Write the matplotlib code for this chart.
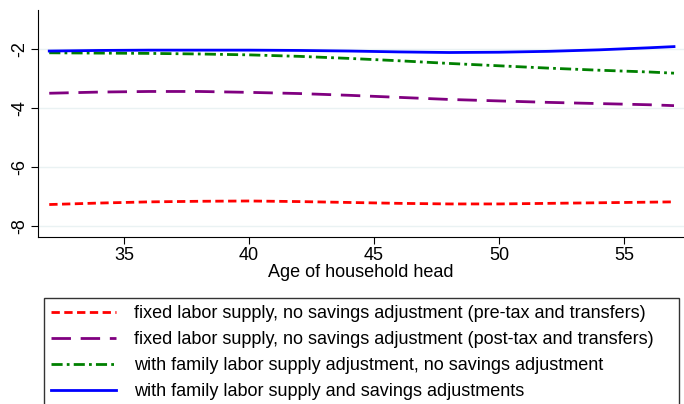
import matplotlib
matplotlib.use("Agg")
import matplotlib.pyplot as plt

plt.rcParams['font.family'] = ['Liberation Sans', 'DejaVu Sans']

ages = [32, 34, 36, 38, 40, 42, 44, 46, 48, 50, 52, 54, 56, 57]
pre_tax = [-7.27, -7.22, -7.18, -7.16, -7.15, -7.17, -7.20, -7.23, -7.25, -7.25, -7.23, -7.21, -7.19, -7.18]
post_tax = [-3.50, -3.46, -3.44, -3.44, -3.47, -3.51, -3.57, -3.64, -3.71, -3.76, -3.81, -3.85, -3.89, -3.92]
labor_adj = [-2.13, -2.14, -2.15, -2.17, -2.20, -2.25, -2.32, -2.40, -2.49, -2.57, -2.65, -2.72, -2.78, -2.82]
labor_sav_adj = [-2.07, -2.05, -2.04, -2.04, -2.04, -2.05, -2.07, -2.10, -2.12, -2.11, -2.08, -2.03, -1.96, -1.92]

labels = [
    "fixed labor supply, no savings adjustment (pre-tax and transfers)",
    "fixed labor supply, no savings adjustment (post-tax and transfers)",
    "with family labor supply adjustment, no savings adjustment",
    "with family labor supply and savings adjustments",
]
xticks = [35, 40, 45, 50, 55]
yticks = [-8, -6, -4, -2]

fig = plt.figure(figsize=(6.84, 4.04), dpi=100)
ax = fig.add_axes([38/684, 1-237/404, (684-38)/684, (237-10)/404])

l1, = ax.plot(ages, pre_tax, color='#ff0000', lw=2, dashes=(3, 1.6))
l2, = ax.plot(ages, post_tax, color='#800080', lw=2, dashes=(7, 3.5))
l3, = ax.plot(ages, labor_adj, color='#008000', lw=2, dashes=(4, 1.5, 1, 1.5))
l4, = ax.plot(ages, labor_sav_adj, color='#0000ff', lw=2)

ax.set_xlim(31.55, 57.4)
ax.set_ylim(-8.37, -0.68)
ax.set_xticks(xticks)
ax.set_yticks(yticks)
ax.set_yticklabels([str(v) for v in yticks], rotation=90, va='center')
ax.tick_params(labelsize=13, length=5, color='black', pad=2)
ax.grid(axis='y', color='#eaf2f3', lw=1)
ax.set_axisbelow(True)
for s in ['top', 'right']:
    ax.spines[s].set_visible(False)
ax.set_xlabel("Age of household head", fontsize=13, labelpad=0)

leg = fig.legend([l1, l2, l3, l4], labels, loc='upper left',
                 bbox_to_anchor=(44/684, 1-298/404, (679-44)/684, 0), mode='expand',
                 fontsize=13,
                 handlelength=3.6, handletextpad=1.0, labelspacing=0.5,
                 frameon=True, fancybox=False, borderpad=0.4, borderaxespad=0)
leg.get_frame().set_edgecolor('black')
leg.get_frame().set_linewidth(1)

fig.savefig("out.png", dpi=100)
